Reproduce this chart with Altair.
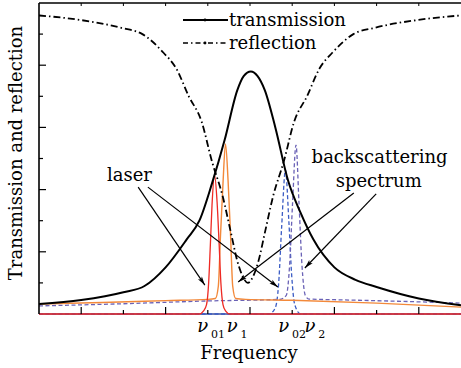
import math
import altair as alt
import pandas as pd

# ---------------- data ----------------
freq_t = [0, 1, 2, 2.5, 3, 3.5, 3.8, 4.1, 4.4, 4.7, 4.85, 5.02, 5.18, 5.35, 5.6, 5.9, 6.2, 6.5, 7, 7.5, 8, 9, 10]
transmission = [0.032, 0.045, 0.07, 0.09, 0.15, 0.24, 0.30, 0.42, 0.56, 0.72, 0.765, 0.78, 0.765, 0.72, 0.60, 0.43, 0.325, 0.24, 0.15, 0.11, 0.087, 0.05, 0.028]

freq_r = [0, 1, 1.95, 2.45, 2.95, 3.25, 3.55, 3.85, 4.1, 4.35, 4.55, 4.7, 4.83, 4.95,
          5.07, 5.2, 5.35, 5.55, 5.8, 6.05, 6.35, 6.65, 6.95, 7.45, 7.95, 8.95, 10]
reflection = [0.96, 0.945, 0.92, 0.90, 0.84, 0.79, 0.70, 0.62, 0.49, 0.38, 0.26, 0.17, 0.12, 0.10,
              0.12, 0.17, 0.26, 0.38, 0.49, 0.62, 0.70, 0.79, 0.84, 0.90, 0.92, 0.945, 0.96]

freq_l1 = [0, 3.6, 3.8, 3.9, 3.97, 4.02, 4.06, 4.10, 4.16, 4.22, 4.27, 4.31, 4.36, 4.42, 4.52, 10]
laser_01 = [0, 0, 0, 0.01, 0.03, 0.10, 0.22, 0.35, 0.447, 0.36, 0.22, 0.10, 0.03, 0.01, 0, 0]

freq_l2 = [0, 1.5, 3.0, 4.0, 4.18, 4.25, 4.30, 4.36, 4.42, 4.48, 4.54, 4.59, 4.66, 4.9, 6, 8, 10]
laser_1 = [0.032, 0.037, 0.043, 0.047, 0.05, 0.09, 0.25, 0.42, 0.547, 0.43, 0.25, 0.09, 0.05, 0.047, 0.044, 0.035, 0.022]

freq_b1 = [0, 5.45, 5.6, 5.68, 5.75, 5.84, 5.92, 5.99, 6.06, 6.2, 10]
back_02 = [0, 0, 0.02, 0.10, 0.28, 0.463, 0.30, 0.12, 0.03, 0, 0]

freq_b2 = [0, 2, 4, 5.7, 5.86, 5.94, 6.01, 6.09, 6.16, 6.23, 6.31, 6.4, 7, 8.5, 10]
back_2 = [0.026, 0.033, 0.042, 0.047, 0.06, 0.16, 0.36, 0.543, 0.36, 0.16, 0.06, 0.048, 0.046, 0.041, 0.035]

# arrows (start x, start y, end x, end y)
arrow_x1 = [2.35, 2.58, 7.46, 7.99]
arrow_y1 = [0.408, 0.408, 0.389, 0.386]
arrow_x2 = [3.93, 5.66, 4.72, 6.30]
arrow_y2 = [0.093, 0.087, 0.103, 0.148]

note_text = ["laser", "backscattering", "spectrum"]
note_x = [1.61, 8.07, 8.05]
note_y = [0.428, 0.486, 0.408]
note_align = ["left", "center", "center"]

nu_x = [3.88, 4.58, 5.80, 6.42]
sub_text = ["01", "1", "02", "2"]
sub_x = [4.24, 4.86, 6.16, 6.70]

x_major = [1, 3, 5, 7, 9]
x_minor = [2, 4, 6, 8]
y_major = [0.2, 0.4, 0.6, 0.8]
y_minor = [0.1, 0.3, 0.5, 0.7, 0.9]

x_title = "Frequency"
y_title = "Transmission and reflection"

# ---------------- layout ----------------
W, H = 422, 311
PXX = W / 10.0
PXY = H / 1.0
FONT = "DejaVu Serif"

xs = alt.Scale(domain=[0, 10], nice=False, zero=False)
ys = alt.Scale(domain=[0, 1], nice=False, zero=False)
one = pd.DataFrame({"a": [0]})


def curve(xv, yv, color, width, dash=None):
    df = pd.DataFrame({"f": xv, "v": yv})
    kw = dict(color=color, strokeWidth=width, interpolate="monotone")
    if dash:
        kw["strokeDash"] = dash
    return alt.Chart(df).mark_line(**kw).encode(
        x=alt.X("f:Q", scale=xs, axis=None),
        y=alt.Y("v:Q", scale=ys, axis=None),
        order="f:Q",
    )


bottom_line = alt.Chart(one).mark_rule(color="#3a4c9c", strokeWidth=1.6).encode(
    x=alt.value(0), x2=alt.value(W), y=alt.value(H))
blue = curve(freq_b1, back_02, "#3b5cc4", 1.3, dash=[4, 2.5])
purple = curve(freq_b2, back_2, "#6a62b6", 1.3, dash=[4, 2.5])
red = curve(freq_l1, laser_01, "#ee2a24", 1.3)
orange = curve(freq_l2, laser_1, "#f3893a", 1.4)
refl = curve(freq_r, reflection, "black", 1.8, dash=[7, 3, 1.5, 3])
trans = curve(freq_t, transmission, "black", 2.0)

# frame: top/left lines and inward ticks
top_line = alt.Chart(one).mark_rule(color="black", strokeWidth=1.5).encode(
    x=alt.value(0), x2=alt.value(W), y=alt.value(0))
left_line = alt.Chart(one).mark_rule(color="black", strokeWidth=1.6).encode(
    x=alt.value(0), y=alt.value(0), y2=alt.value(H))

xmaj = alt.Chart(pd.DataFrame({"t": x_major})).mark_rule(color="black", strokeWidth=1.2).encode(
    x=alt.X("t:Q", scale=xs, axis=None), y=alt.value(H), y2=alt.value(H - 7))
xmin = alt.Chart(pd.DataFrame({"t": x_minor})).mark_rule(color="black", strokeWidth=1.2).encode(
    x=alt.X("t:Q", scale=xs, axis=None), y=alt.value(H), y2=alt.value(H - 4))
xtop = alt.Chart(pd.DataFrame({"t": x_major + x_minor})).mark_rule(color="black", strokeWidth=1).encode(
    x=alt.X("t:Q", scale=xs, axis=None), y=alt.value(0), y2=alt.value(3))
ymaj = alt.Chart(pd.DataFrame({"t": y_major})).mark_rule(color="black", strokeWidth=1.2).encode(
    y=alt.Y("t:Q", scale=ys, axis=None), x=alt.value(0), x2=alt.value(7))
ymin = alt.Chart(pd.DataFrame({"t": y_minor})).mark_rule(color="black", strokeWidth=1.2).encode(
    y=alt.Y("t:Q", scale=ys, axis=None), x=alt.value(0), x2=alt.value(4))

# axis titles
xt = alt.Chart(one).mark_text(font=FONT, fontSize=18, color="black", align="center",
                              baseline="alphabetic").encode(
    x=alt.value(210), y=alt.value(356), text=alt.value(x_title))
yt = alt.Chart(one).mark_text(font=FONT, fontSize=18, color="black", align="center",
                              baseline="alphabetic", angle=270).encode(
    x=alt.value(-17), y=alt.value(150), text=alt.value(y_title))

# arrows
ang = []
for a, b, c, d in zip(arrow_x1, arrow_y1, arrow_x2, arrow_y2):
    dx = (c - a) * PXX
    dy = -(d - b) * PXY
    ang.append(math.degrees(math.atan2(dx, -dy)) % 360)
adf = pd.DataFrame({"x1": arrow_x1, "y1": arrow_y1, "x2": arrow_x2, "y2": arrow_y2, "ang": ang})
arrow_lines = alt.Chart(adf).mark_rule(color="black", strokeWidth=1.2).encode(
    x=alt.X("x1:Q", scale=xs, axis=None), y=alt.Y("y1:Q", scale=ys, axis=None), x2="x2:Q", y2="y2:Q")
arrow_heads = alt.Chart(adf).mark_point(
    shape="M0,0L0.6,2.2L0,1.7L-0.6,2.2Z", filled=True, color="black", size=64, opacity=1, strokeWidth=0
).encode(
    x=alt.X("x2:Q", scale=xs, axis=None), y=alt.Y("y2:Q", scale=ys, axis=None),
    angle=alt.Angle("ang:Q", scale=None))

# annotation texts
ndf = pd.DataFrame({"t": note_text, "x": note_x, "y": note_y})
notes = []
for i in range(len(note_text)):
    notes.append(alt.Chart(ndf.iloc[[i]]).mark_text(
        font=FONT, fontSize=18, color="black", align=note_align[i], baseline="alphabetic"
    ).encode(x=alt.X("x:Q", scale=xs, axis=None), y=alt.Y("y:Q", scale=ys, axis=None), text="t:N"))

# frequency labels
nu = alt.Chart(pd.DataFrame({"x": nu_x, "t": ["ν"] * 4})).mark_text(
    font=FONT, fontSize=18, fontStyle="italic", color="black", align="center", baseline="alphabetic"
).encode(x=alt.X("x:Q", scale=xs, axis=None), y=alt.value(329), text="t:N")
subs = alt.Chart(pd.DataFrame({"x": sub_x, "t": sub_text})).mark_text(
    font=FONT, fontSize=11, color="black", align="center", baseline="alphabetic"
).encode(x=alt.X("x:Q", scale=xs, axis=None), y=alt.value(335), text="t:N")

# legend
leg_t = alt.Chart(one).mark_rule(color="black", strokeWidth=1.8).encode(
    x=alt.value(144), x2=alt.value(189), y=alt.value(17))
leg_r = alt.Chart(one).mark_rule(color="black", strokeWidth=1.6, strokeDash=[5, 3, 1.5, 3]).encode(
    x=alt.value(144), x2=alt.value(189), y=alt.value(40))
leg_pts = alt.Chart(pd.DataFrame({"yy": [17, 40]})).mark_point(
    shape="circle", filled=True, color="black", size=8, opacity=1).encode(
    x=alt.value(166), y=alt.Y("yy:Q", scale=None, axis=None))
leg_txt1 = alt.Chart(one).mark_text(font=FONT, fontSize=18, color="black", align="left",
                                    baseline="alphabetic").encode(
    x=alt.value(190), y=alt.value(23), text=alt.value("transmission"))
leg_txt2 = alt.Chart(one).mark_text(font=FONT, fontSize=18, color="black", align="left",
                                    baseline="alphabetic").encode(
    x=alt.value(190), y=alt.value(46), text=alt.value("reflection"))

chart = alt.layer(
    bottom_line, blue, purple, orange, red, refl, trans,
    top_line, left_line, xmaj, xmin, xtop, ymaj, ymin, xt, yt,
    arrow_lines, arrow_heads, *notes, nu, subs,
    leg_t, leg_r, leg_pts, leg_txt1, leg_txt2,
).properties(
    width=W, height=H,
    padding={"left": 39, "top": 3, "right": 0, "bottom": 54},
    autosize=alt.AutoSizeParams(type="none"),
    background="white",
).configure_view(stroke=None)

chart.save("out.html", embed_options={"renderer": "svg", "actions": False})
